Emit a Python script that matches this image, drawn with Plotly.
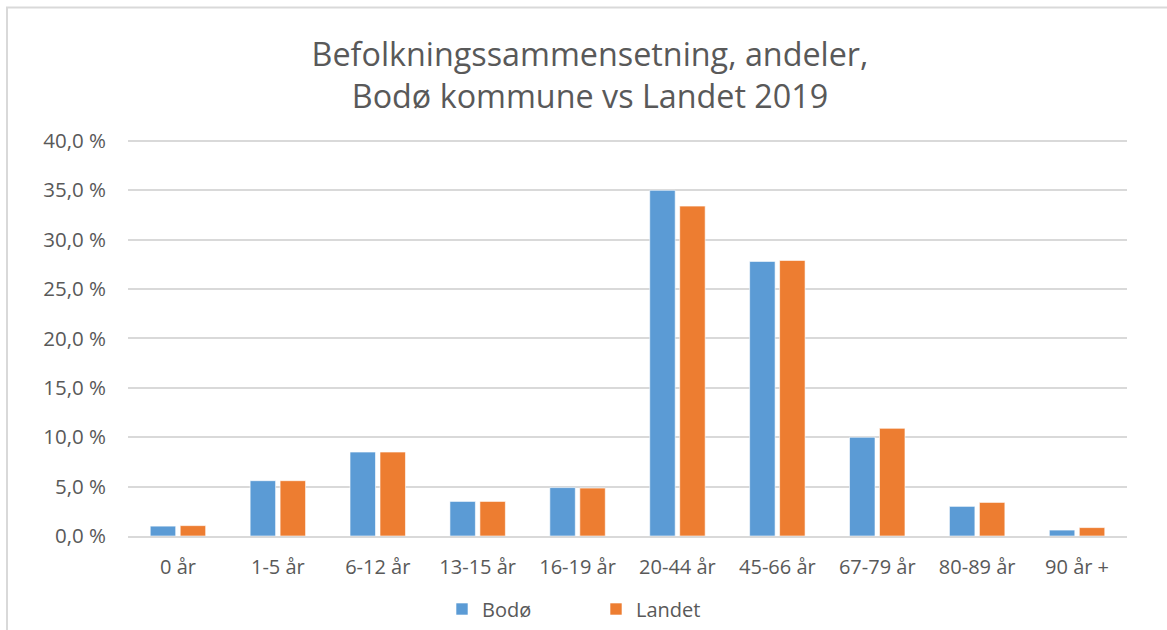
import plotly.graph_objects as go

categories = ["0 år", "1-5 år", "6-12 år", "13-15 år", "16-19 år",
              "20-44 år", "45-66 år", "67-79 år", "80-89 år", "90 år +"]
bodo = [1.0, 5.6, 8.5, 3.5, 4.9, 35.0, 27.8, 10.0, 3.0, 0.6]
landet = [1.05, 5.6, 8.5, 3.5, 4.85, 33.4, 27.9, 10.9, 3.4, 0.85]
series_names = ["Bodø", "Landet"]
colors = ["#5B9BD5", "#ED7D31"]

W, H = 1167, 630
y_max = 40.6
ml, mr, mb = 128, 40, 94
mt = round(141 - (y_max - 40) * 395 / 40)
pw, ph = W - ml - mr, H - mt - mb

fig = go.Figure()
for name, vals, c in zip(series_names, [bodo, landet], colors):
    fig.add_trace(go.Bar(x=categories, y=vals, name=name,
                         marker=dict(color=c, line=dict(color="rgba(255,255,255,0.6)", width=1))))

font_fam = "Open Sans, Noto Sans, sans-serif"
txt_col = "#595959"

def px_x(p):
    return (p - ml) / pw

def px_y(p):
    return (H - mb - p) / ph

fig.update_layout(
    width=W, height=H,
    margin=dict(l=ml, r=mr, t=mt, b=mb, autoexpand=False),
    paper_bgcolor="white", plot_bgcolor="white",
    separators=", ",
    barmode="group", bargap=0.4, bargroupgap=0.15,
    font=dict(family=font_fam, color=txt_col, size=16),
    title=dict(text="Befolkningssammensetning, andeler,<br>Bodø kommune vs Landet 2019",
               xref="container", x=590 / W, xanchor="center",
               yref="container", y=1 - 66 / H, yanchor="middle",
               font=dict(size=32.3, color=txt_col, family=font_fam)),
    showlegend=True,
    legend=dict(orientation="h", xref="container", x=442 / W, xanchor="left",
                yref="container", y=1 - 609 / H, yanchor="middle",
                font=dict(size=20, color=txt_col), entrywidth=109, entrywidthmode="pixels",
                bgcolor="rgba(0,0,0,0)"),
    xaxis=dict(showgrid=False, showline=True, linecolor="#d9d9d9", linewidth=1.5,
               automargin=False,
               ticks="", ticklabelstandoff=12, tickfont=dict(size=20, color=txt_col)),
    yaxis=dict(range=[0, y_max], tick0=0, dtick=5,
               tickformat=".1f", ticksuffix=" %",
               automargin=False,
               showgrid=True, gridcolor="#d9d9d9", gridwidth=1.5, zeroline=False,
               showline=False, ticklabelstandoff=21, tickfont=dict(size=20.5, color=txt_col)),
    shapes=[dict(type="rect", xref="paper", yref="paper",
                 x0=px_x(7), x1=px_x(W + 20), y0=px_y(H + 20), y1=px_y(7.5),
                 line=dict(color="#d9d9d9", width=2), layer="below")],
)

fig.write_html("out.html", config={"displayModeBar": False},
               post_script="document.body.style.margin='0';document.body.style.padding='0';")
